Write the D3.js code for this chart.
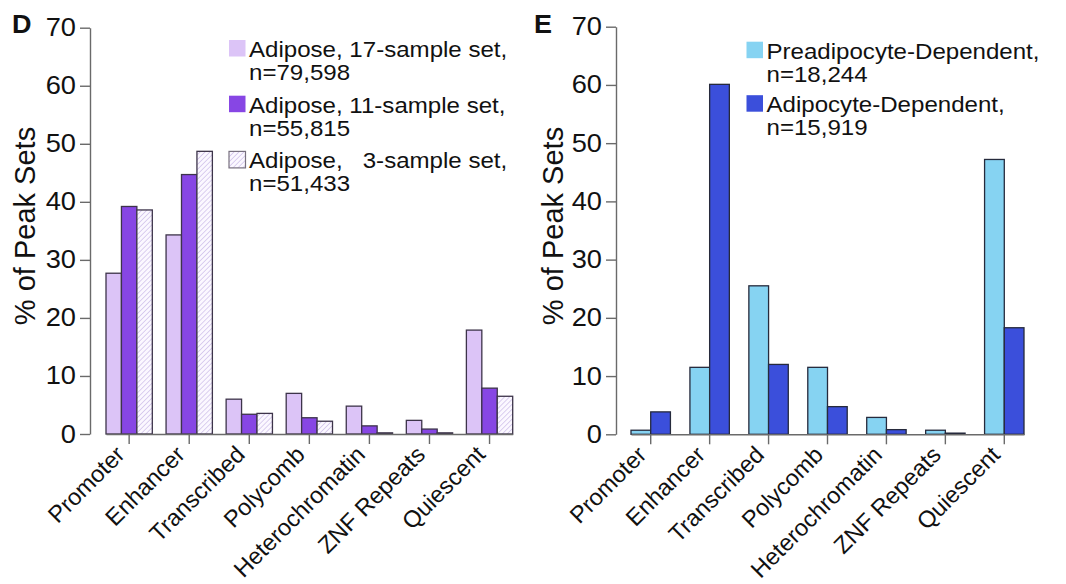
<!DOCTYPE html>
<html>
<head>
<meta charset="utf-8">
<script src="https://cdn.jsdelivr.net/npm/d3@7"></script>
<style>
  body { margin: 0; background: #fff; }
  svg { display: block; font-family: "Liberation Sans", Arial, sans-serif; }
</style>
</head>
<body>
<svg width="1066" height="584"></svg>
<script>
var categories = ['Promoter', 'Enhancer', 'Transcribed', 'Polycomb', 'Heterochromatin', 'ZNF Repeats', 'Quiescent']
var yTicks = [0, 10, 20, 30, 40, 50, 60, 70]

// panel D
var adipose17 = [27.7, 34.3, 6.0, 7.0, 4.8, 2.35, 17.9]
var adipose11 = [39.2, 44.7, 3.4, 2.8, 1.4, 0.85, 7.9]
var adipose3 = [38.6, 48.7, 3.55, 2.2, 0.2, 0.2, 6.5]
var legendD = [
  ['Adipose, 17-sample set,', 'n=79,598'],
  ['Adipose, 11-sample set,', 'n=55,815'],
  ['Adipose,   3-sample set,', 'n=51,433']
]

// panel E
var preadipocyte = [0.7, 11.5, 25.5, 11.5, 2.9, 0.7, 47.2]
var adipocyte = [3.85, 60.1, 12.0, 4.75, 0.8, 0.2, 18.3]
var legendE = [
  ['Preadipocyte-Dependent,', 'n=18,244'],
  ['Adipocyte-Dependent,', 'n=15,919']
]

var svg = d3.select('svg')

var defs = svg.append('defs')
var hatch = defs.append('pattern')
    .attr('id', 'hatch')
    .attr('patternUnits', 'userSpaceOnUse')
    .attr('width', 3.5)
    .attr('height', 3.5)
    .attr('patternTransform', 'rotate(45)')
hatch.append('rect').attr('width', 3.5).attr('height', 3.5).attr('fill', '#fbf8ff')
hatch.append('line')
    .attr('x1', 0).attr('y1', 0).attr('x2', 0).attr('y2', 3.5)
    .attr('stroke', '#cdbde9').attr('stroke-width', 1.4)

function panel (opt) {
  var g = svg.append('g')

  var y = d3.scaleLinear().domain([0, 70]).range([opt.y0, opt.y70])
  var x = d3.scaleBand().domain(categories).range(opt.xr).paddingInner(opt.pad).paddingOuter(0)
  var xs = d3.scaleBand().domain(d3.range(opt.series.length)).range([0, x.bandwidth()])

  // bars
  opt.series.forEach(function (vals, si) {
    g.selectAll('.b' + si)
        .data(vals)
        .enter()
        .append('rect')
        .attr('x', function (d, i) { return x(categories[i]) + xs(si) })
        .attr('y', function (d) { return y(d) })
        .attr('width', xs.bandwidth())
        .attr('height', function (d) { return y(0) - y(d) })
        .attr('fill', opt.fills[si])
        .attr('stroke', opt.stroke)
        .attr('stroke-width', 1.3)
  })

  // y axis
  var ya = g.append('g')
      .attr('transform', 'translate(' + opt.axisX + ',0)')
      .call(d3.axisLeft(y).tickValues(yTicks).tickSize(10).tickSizeOuter(0))
  ya.select('.domain').attr('stroke', '#6a6a6a').attr('stroke-width', 1.4)
  ya.selectAll('.tick line').attr('stroke', '#6a6a6a').attr('stroke-width', 1.4)
  ya.selectAll('.tick text')
      .attr('x', -14 / 1.09)
      .attr('transform', 'scale(1.09,1)')
      .attr('font-size', 25)
      .attr('font-family', '"Liberation Sans", Arial, sans-serif')
      .attr('fill', '#111')

  // x axis
  var xa = g.append('g')
      .attr('transform', 'translate(0,' + opt.y0 + ')')
      .call(d3.axisBottom(x).tickSize(10).tickSizeOuter(0))
  xa.select('.domain').attr('stroke', '#6a6a6a').attr('stroke-width', 1.4)
  xa.selectAll('.tick line').attr('stroke', '#6a6a6a').attr('stroke-width', 1.4)
  xa.selectAll('.tick text')
      .attr('x', 0).attr('y', 0).attr('dy', 0)
      .attr('transform', 'translate(-3,22) rotate(-45)')
      .attr('text-anchor', 'end')
      .attr('font-size', 23.5)
      .attr('font-family', '"Liberation Sans", Arial, sans-serif')
      .attr('fill', '#111')

  // y title
  g.append('text')
      .attr('transform', 'translate(' + opt.titleX + ',' + 226 + ') rotate(-90)')
      .attr('text-anchor', 'middle')
      .attr('font-size', 29)
      .attr('fill', '#111')
      .text('% of Peak Sets')

  // panel letter
  g.append('text')
      .attr('transform', 'translate(' + opt.letterX + ',33) scale(1.08,1)')
      .attr('font-size', 25)
      .attr('font-weight', 'bold')
      .attr('fill', '#111')
      .text(opt.letter)

  // legend
  var lg = g.selectAll('.leg')
      .data(opt.legend)
      .enter()
      .append('g')
      .attr('transform', function (d, i) { return 'translate(' + opt.legX + ',' + (opt.legY + i * opt.legStep) + ')' })
  lg.append('rect')
      .attr('x', 0).attr('y', 0)
      .attr('width', 16.5).attr('height', 16.5)
      .attr('fill', function (d, i) { return opt.fills[i] })
      .attr('stroke', function (d, i) { return opt.legStroke[i] })
      .attr('stroke-width', 1.2)
  lg.append('text')
      .attr('transform', 'translate(20,17) scale(1.07,1)')
      .attr('font-size', 22.5)
      .attr('fill', '#111')
      .style('white-space', 'pre')
      .text(function (d) { return d[0] })
  lg.append('text')
      .attr('transform', 'translate(20,40) scale(1.07,1)')
      .attr('font-size', 22.5)
      .attr('fill', '#111')
      .text(function (d) { return d[1] })
}

panel({
  series: [adipose17, adipose11, adipose3],
  fills: ['#dcc4f7', '#8746e4', 'url(#hatch)'],
  stroke: '#3d344a',
  legStroke: ['none', 'none', '#77707f'],
  y0: 434, y70: 27.7,
  xr: [106, 512.7], pad: 0.229,
  axisX: 90,
  titleX: 35,
  letterX: 12,
  letter: 'D',
  legend: legendD,
  legX: 229, legY: 40, legStep: 55.7
})

panel({
  series: [preadipocyte, adipocyte],
  fills: ['#86d3f2', '#3b4fdb'],
  stroke: '#262a3c',
  legStroke: ['none', 'none'],
  y0: 434.3, y70: 26.7,
  xr: [631, 1024], pad: 0.331,
  axisX: 616,
  titleX: 563,
  letterX: 534,
  letter: 'E',
  legend: legendE,
  legX: 746.5, legY: 41.7, legStep: 53.5
})
</script>
</body>
</html>
